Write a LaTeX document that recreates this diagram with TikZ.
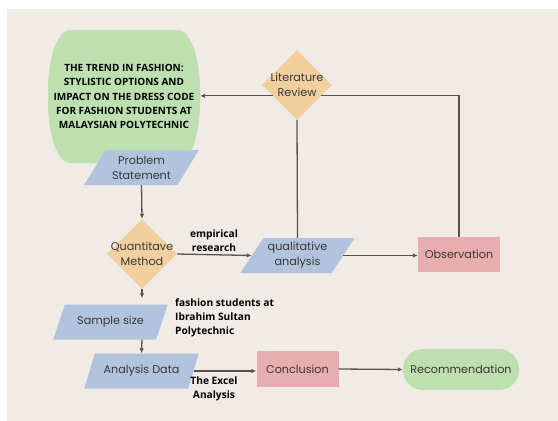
\documentclass[tikz,border=0pt]{standalone}
\usepackage{fontspec}
\setmainfont{Poppins}
\newfontfamily\labelfont{Open Sans}
\usetikzlibrary{shapes.geometric,arrows.meta}

\definecolor{bgcol}{RGB}{240,235,229}
\definecolor{greenfill}{RGB}{190,223,176}
\definecolor{bluefill}{RGB}{178,195,222}
\definecolor{orangefill}{RGB}{242,207,158}
\definecolor{pinkfill}{RGB}{232,174,174}
\definecolor{linecol}{RGB}{88,83,80}
\definecolor{textcol}{RGB}{58,55,54}

\begin{document}
\begin{tikzpicture}[x=1pt, y=-1pt,
      every node/.style = {align=center, text=textcol, font=\fontsize{11.2}{15}\selectfont},
      datanode/.style = {trapezium, trapezium left angle=53, trapezium right angle=127,
        trapezium stretches=true, fill=bluefill, inner sep=0pt,
        minimum width=115pt, minimum height=35pt},
      decision/.style = {diamond, fill=orangefill, inner sep=0pt, minimum size=70pt},
      process/.style = {rectangle, fill=pinkfill, inner sep=0pt,
        minimum width=82pt, minimum height=36pt},
      terminal/.style = {rectangle, rounded corners=20pt, fill=greenfill, inner sep=0pt},
      note/.style = {text=black, inner sep=0pt, font=\labelfont\bfseries\fontsize{10.2}{14}\selectfont},
      flow/.style = {draw=linecol, line width=1.3pt, -{Latex[length=5pt,width=4.5pt]}},
      link/.style = {draw=linecol, line width=1.3pt}]
  \useasboundingbox (0,0) rectangle (558,421);
  \fill[bgcol] (7,9) rectangle (558,421);

  % title block with bulging sides
  \fill[greenfill] (70,30) -- (178,30)
    .. controls (190,30) and (200,57) .. (200,90) -- (200,103)
    .. controls (200,136) and (190,163) .. (178,163) -- (70,163)
    .. controls (58,163) and (48,136) .. (48,103) -- (48,90)
    .. controls (48,57) and (58,30) .. (70,30) -- cycle;
  \node[minimum width=152pt, minimum height=133pt, text=black,
    font=\labelfont\bfseries\fontsize{10}{14.3}\selectfont] (title) at (124,96.5)
    {THE TREND IN FASHION:\\STYLISTIC OPTIONS AND\\IMPACT ON THE DRESS CODE\\FOR FASHION STUDENTS AT\\MALAYSIAN POLYTECHNIC};

  % shapes
  \node[datanode] (problem) at (141.5,167.5) {Problem\\Statement};
  \node[decision, label=center:{Quantitave\\Method}] (quant) at (142,254) {};
  \node[datanode] (sample) at (110.5,322) {Sample size};
  \node[datanode] (analysis) at (141.5,371) {Analysis Data};
  \node[process] (conclusion) at (297.5,369) {Conclusion};
  \node[terminal, minimum width=116pt, minimum height=41pt] (recommend) at (461,369.5) {Recommendation};
  \node[datanode] (qual) at (297.5,255.5) {qualitative\\analysis};
  \node[process, minimum height=35pt] (observe) at (459,254.5) {Observation};
  \node[decision, label=center:{Literature\\Review}] (literature) at (297,85) {};

  % labels
  \node[note] (empirical) at (214,241) {empirical\\research};
  \node[note, anchor=west, align=left] (students) at (175,318) {fashion students at\\Ibrahim Sultan\\Polytechnic};
  \node[note] (excel) at (214,389) {The Excel\\Analysis};

  % connectors
  \draw[flow] (problem.south) -- (quant.north);
  \draw[flow, shorten >=6pt] (quant.south) -- (quant.south |- sample.north);
  \draw[flow] (quant.south |- sample.south) -- (analysis.north);
  \draw[flow] (analysis.east) -- (analysis.east -| conclusion.west);
  \draw[flow] (conclusion.east) -- (recommend.west);
  \draw[flow] (quant.east) -- (qual.west);
  \draw[flow] (qual.east) -- (qual.east -| observe.west);
  \draw[link] (qual.north) -- (literature.south);
  \draw[link] (observe.north) |- (literature.-24.6);
  \draw[flow] (literature.204.6) -- (literature.204.6 -| title.east);
\end{tikzpicture}
\end{document}
